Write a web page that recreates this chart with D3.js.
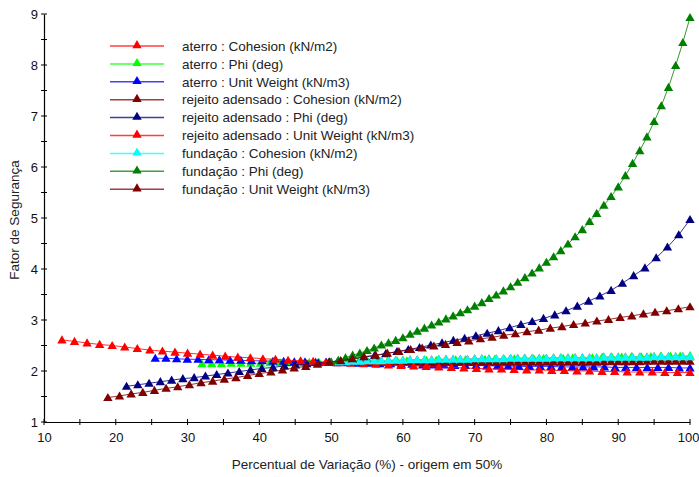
<!DOCTYPE html>
<html><head><meta charset="utf-8">
<script src="https://cdn.jsdelivr.net/npm/d3@7"></script>
<style>body{margin:0;background:#fff}svg{display:block;font-family:"Liberation Sans",Arial,sans-serif}</style>
</head><body><svg id="c" width="699" height="477"></svg>
<script>
const seriesNames = [
  "aterro : Cohesion (kN/m2)",
  "aterro : Phi (deg)",
  "aterro : Unit Weight (kN/m3)",
  "rejeito adensado : Cohesion (kN/m2)",
  "rejeito adensado : Phi (deg)",
  "rejeito adensado : Unit Weight (kN/m3)",
  "fundação : Cohesion (kN/m2)",
  "fundação : Phi (deg)",
  "fundação : Unit Weight (kN/m3)"
];
const seriesColors = ["#ff0000","#00ff00","#0000ff","#800000","#000080","#ff0000","#00ffff","#008000","#800000"];
// x range (first, last percent) of each series; points evenly spaced
const xRanges = [[50,100],[32,100],[25.5,100],[50,100],[21.5,100],[12.5,100],[50,100],[50,100],[18.9,100]];

const aterroCohesion = [2.17,2.18,2.18,2.19,2.19,2.2,2.2,2.2,2.21,2.21,2.21,2.22,2.22,2.22,2.22,2.23,2.23,2.23,2.23,2.23,2.24,2.24,2.24,2.24,2.24,2.25,2.25,2.25,2.25,2.25,2.25,2.26,2.26,2.26,2.26,2.26,2.26,2.26,2.27,2.27,2.27,2.27,2.27,2.27,2.27,2.28,2.28,2.28,2.28,2.28,2.28];
const aterroPhi = [2.14,2.14,2.14,2.15,2.15,2.15,2.15,2.16,2.16,2.16,2.16,2.17,2.17,2.17,2.18,2.18,2.18,2.19,2.19,2.19,2.2,2.2,2.2,2.21,2.21,2.21,2.22,2.22,2.22,2.23,2.23,2.23,2.24,2.24,2.24,2.25,2.25,2.25,2.26,2.26,2.26,2.27,2.27,2.27,2.28,2.28,2.28,2.29,2.29,2.29,2.3];
const aterroUnitWeight = [2.25,2.25,2.24,2.23,2.23,2.22,2.22,2.21,2.21,2.2,2.2,2.19,2.19,2.18,2.18,2.17,2.17,2.16,2.16,2.15,2.15,2.14,2.14,2.13,2.13,2.12,2.12,2.12,2.11,2.11,2.11,2.1,2.1,2.1,2.09,2.09,2.09,2.09,2.08,2.08,2.08,2.08,2.08,2.07,2.07,2.07,2.07,2.07,2.07,2.06,2.06];
const rejeitoCohesion = [2.17,2.17,2.17,2.17,2.17,2.17,2.17,2.17,2.17,2.17,2.17,2.17,2.17,2.17,2.17,2.17,2.17,2.17,2.17,2.17,2.17,2.17,2.17,2.17,2.17,2.17,2.17,2.17,2.17,2.17,2.17,2.17,2.17,2.17,2.17,2.17,2.17,2.17,2.18,2.18,2.18,2.18,2.18,2.18,2.19,2.19,2.19,2.19,2.19,2.19,2.19];
const rejeitoPhi = [1.70,1.73,1.76,1.79,1.82,1.85,1.87,1.90,1.93,1.96,1.99,2.02,2.05,2.07,2.10,2.12,2.14,2.16,2.18,2.20,2.23,2.27,2.30,2.34,2.38,2.42,2.46,2.51,2.55,2.60,2.64,2.69,2.74,2.79,2.85,2.91,2.97,3.03,3.10,3.18,3.27,3.37,3.47,3.58,3.72,3.87,4.02,4.22,4.43,4.67,4.97];
const rejeitoUnitWeight = [2.61,2.58,2.55,2.52,2.50,2.47,2.44,2.41,2.39,2.37,2.35,2.33,2.31,2.29,2.27,2.26,2.24,2.23,2.21,2.20,2.19,2.17,2.16,2.15,2.14,2.13,2.12,2.11,2.10,2.09,2.08,2.07,2.06,2.05,2.04,2.04,2.03,2.02,2.02,2.01,2.01,2.00,2.00,1.99,1.99,1.98,1.98,1.98,1.97,1.97,1.97];
const fundacaoCohesion = [2.17,2.18,2.18,2.19,2.19,2.2,2.2,2.2,2.21,2.21,2.21,2.22,2.22,2.22,2.22,2.23,2.23,2.23,2.23,2.23,2.24,2.24,2.24,2.24,2.24,2.25,2.25,2.25,2.25,2.25,2.25,2.26,2.26,2.26,2.26,2.26,2.26,2.26,2.27,2.27,2.27,2.27,2.27,2.27,2.27,2.28,2.28,2.28,2.28,2.28,2.28];
const fundacaoPhi = [2.17,2.21,2.26,2.31,2.35,2.40,2.45,2.51,2.55,2.60,2.65,2.72,2.78,2.84,2.90,2.96,3.02,3.08,3.14,3.20,3.27,3.34,3.42,3.49,3.57,3.65,3.74,3.83,3.92,4.02,4.13,4.24,4.36,4.49,4.63,4.77,4.93,5.09,5.25,5.42,5.61,5.83,6.07,6.32,6.59,6.89,7.20,7.56,7.99,8.44,8.93];
const fundacaoUnitWeight = [1.48,1.51,1.55,1.58,1.62,1.66,1.69,1.73,1.77,1.80,1.84,1.87,1.91,1.95,1.98,2.02,2.06,2.09,2.13,2.17,2.20,2.24,2.28,2.31,2.35,2.38,2.42,2.45,2.49,2.52,2.56,2.59,2.63,2.66,2.70,2.73,2.77,2.80,2.84,2.87,2.91,2.94,2.98,3.01,3.05,3.08,3.12,3.15,3.18,3.22,3.26];

const seriesValues = [aterroCohesion,aterroPhi,aterroUnitWeight,rejeitoCohesion,rejeitoPhi,rejeitoUnitWeight,fundacaoCohesion,fundacaoPhi,fundacaoUnitWeight];
const xTicks = [10,20,30,40,50,60,70,80,90,100];
const xMinorTicks = [15,25,35,45,55,65,75,85,95];
const yTicks = [1,2,3,4,5,6,7,8,9];
const yMinorTicks = [1.5,2.5,3.5,4.5,5.5,6.5,7.5,8.5];
const xTitle = "Percentual de Variação (%) - origem em 50%";
const yTitle = "Fator de Segurança";

const svg = d3.select("#c");
const x = d3.scaleLinear().domain([10,100]).range([44,690]);
const y = d3.scaleLinear().domain([1,9]).range([422,14]);

// axes
const xa = svg.append("g").attr("transform","translate(0,422)")
  .call(d3.axisBottom(x).tickValues(xTicks).tickSize(0).tickPadding(11).tickFormat(d3.format("d")));
const ya = svg.append("g").attr("transform","translate(44,0)")
  .call(d3.axisLeft(y).tickValues(yTicks).tickSize(0).tickPadding(6).tickFormat(d3.format("d")));
[xa,ya].forEach(g=>{g.select(".domain").attr("stroke","#000").attr("stroke-width",1.2);
  g.selectAll("text").attr("font-size",13).attr("fill","#111").attr("font-family","Liberation Sans, Arial, sans-serif");});
ya.selectAll("text").attr("dy","0.36em");
xa.selectAll("text").filter(d=>d===100).attr("text-anchor","end").attr("dx","9");
svg.append("g").selectAll("line").data(xTicks.concat(xMinorTicks)).join("line")
  .attr("x1",d=>x(d)).attr("x2",d=>x(d)).attr("y1",419).attr("y2",425).attr("stroke","#000");
svg.append("g").selectAll("line").data(yTicks.concat(yMinorTicks)).join("line")
  .attr("x1",41).attr("x2",47).attr("y1",d=>y(d)).attr("y2",d=>y(d)).attr("stroke","#000");

svg.append("text").attr("x",367).attr("y",469).attr("text-anchor","middle").attr("font-size",13.5).attr("fill","#222").text(xTitle);
svg.append("text").attr("transform","translate(19,220) rotate(-90)").attr("text-anchor","middle").attr("font-size",13.5).attr("fill","#222").text(yTitle);

const tri = d3.symbol().type(d3.symbolTriangle).size(38);
const line = d3.line().x(d=>x(d[0])).y(d=>y(d[1]));

seriesValues.forEach((vals,i)=>{
  const [a,b] = xRanges[i];
  const step = (b-a)/(vals.length-1);
  const pts = vals.map((v,k)=>[a+k*step, v]);
  const g = svg.append("g");
  g.append("path").datum(pts).attr("d",line).attr("fill","none").attr("stroke",seriesColors[i]).attr("stroke-width",1).attr("opacity",0.8);
  g.selectAll("path.m").data(pts).join("path").attr("class","m").attr("d",tri)
    .attr("transform",d=>`translate(${x(d[0])},${y(d[1])+0.8})`).attr("fill",seriesColors[i]);
});

// legend
const lg = svg.append("g");
seriesNames.forEach((n,i)=>{
  const yy = 46 + i*17.9;
  lg.append("line").attr("x1",110).attr("x2",164).attr("y1",yy).attr("y2",yy).attr("stroke",seriesColors[i]).attr("stroke-width",1.5).attr("opacity",0.75);
  lg.append("path").attr("d",tri).attr("transform",`translate(137,${yy-0.5})`).attr("fill",seriesColors[i]);
  lg.append("text").attr("x",182).attr("y",yy).attr("dy","0.35em").attr("font-size",13.5).attr("fill","#222").text(n);
});
</script></body></html>
